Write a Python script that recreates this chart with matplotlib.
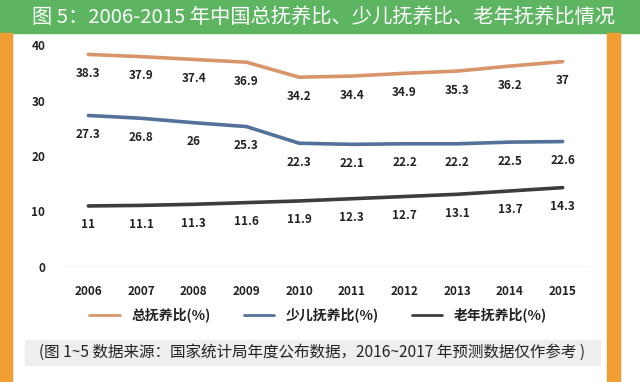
import matplotlib.pyplot as plt
from matplotlib.patches import Rectangle

plt.rcParams['font.family'] = ['Noto Sans CJK SC', 'DejaVu Sans']

years = ['2006', '2007', '2008', '2009', '2010', '2011', '2012', '2013', '2014', '2015']
total = [38.3, 37.9, 37.4, 36.9, 34.2, 34.4, 34.9, 35.3, 36.2, 37]
child = [27.3, 26.8, 26, 25.3, 22.3, 22.1, 22.2, 22.2, 22.5, 22.6]
old = [11, 11.1, 11.3, 11.6, 11.9, 12.3, 12.7, 13.1, 13.7, 14.3]
names = ['总抚养比(%)', '少儿抚养比(%)', '老年抚养比(%)']
colors = ['#D8956A', '#54719A', '#3D3D3D']

title = '图 5：2006-2015 年中国总抚养比、少儿抚养比、老年抚养比情况'
source = '(图 1~5 数据来源：国家统计局年度公布数据，2016~2017 年预测数据仅作参考 )'

fig = plt.figure(figsize=(6.4, 3.82), dpi=100)
W, H = 640, 382

def box(x, y, w, h, color):
    # pixel coords from top-left
    fig.patches.append(Rectangle((x / W, 1 - (y + h) / H), w / W, h / H,
                                 transform=fig.transFigure, color=color, zorder=0))

box(0, 0, 640, 33, '#5DB561')
box(0, 33, 12, 349, '#F09E33')
box(607, 33, 13, 349, '#F09E33')
box(25, 340, 575, 25, '#EEEEEE')

fig.text(32 / W, 1 - 17 / H, title, color='white', fontsize=14.6, va='center', ha='left')
fig.text(312 / W, 1 - 352 / H, source, color='#222222', fontsize=11.2, va='center', ha='center')

ax = fig.add_axes([62 / W, 1 - 267 / H, 527 / W, 222 / H])
ax.set_facecolor('none')
x = range(len(years))
for vals, c, n in zip([total, child, old], colors, names):
    ax.plot(x, vals, color=c, lw=2.6, label=n, solid_capstyle='round')
    for xi, v in zip(x, vals):
        ax.annotate(f'{v:g}', (xi, v), xytext=(0, -19), textcoords='offset pixels',
                    ha='center', va='center', fontsize=8.5, fontweight='bold', color='#222222')

ax.set_xlim(-0.5, len(years) - 0.5)
ax.set_ylim(0, 40)
ax.set_yticks([0, 10, 20, 30, 40])
ax.set_xticks(list(x))
ax.set_xticklabels(years)
ax.axhline(0, color='#D9D9D9', lw=1)
for s in ax.spines.values():
    s.set_visible(False)
ax.tick_params(length=0, labelsize=8.5, labelcolor='#222222')
ax.tick_params(axis='y', pad=12)
ax.tick_params(axis='x', pad=13)
for lab in ax.get_xticklabels() + ax.get_yticklabels():
    lab.set_fontweight('bold')

leg = fig.legend(*ax.get_legend_handles_labels(), loc='center', ncol=3,
                 bbox_to_anchor=(318 / W, 1 - 315 / H), frameon=False,
                 prop={'size': 10, 'weight': 'bold'}, handlelength=2.2, columnspacing=2.4)
for t in leg.get_texts():
    t.set_color('#222222')
for line in leg.get_lines():
    line.set_linewidth(2)

fig.savefig('out.png', dpi=100)
